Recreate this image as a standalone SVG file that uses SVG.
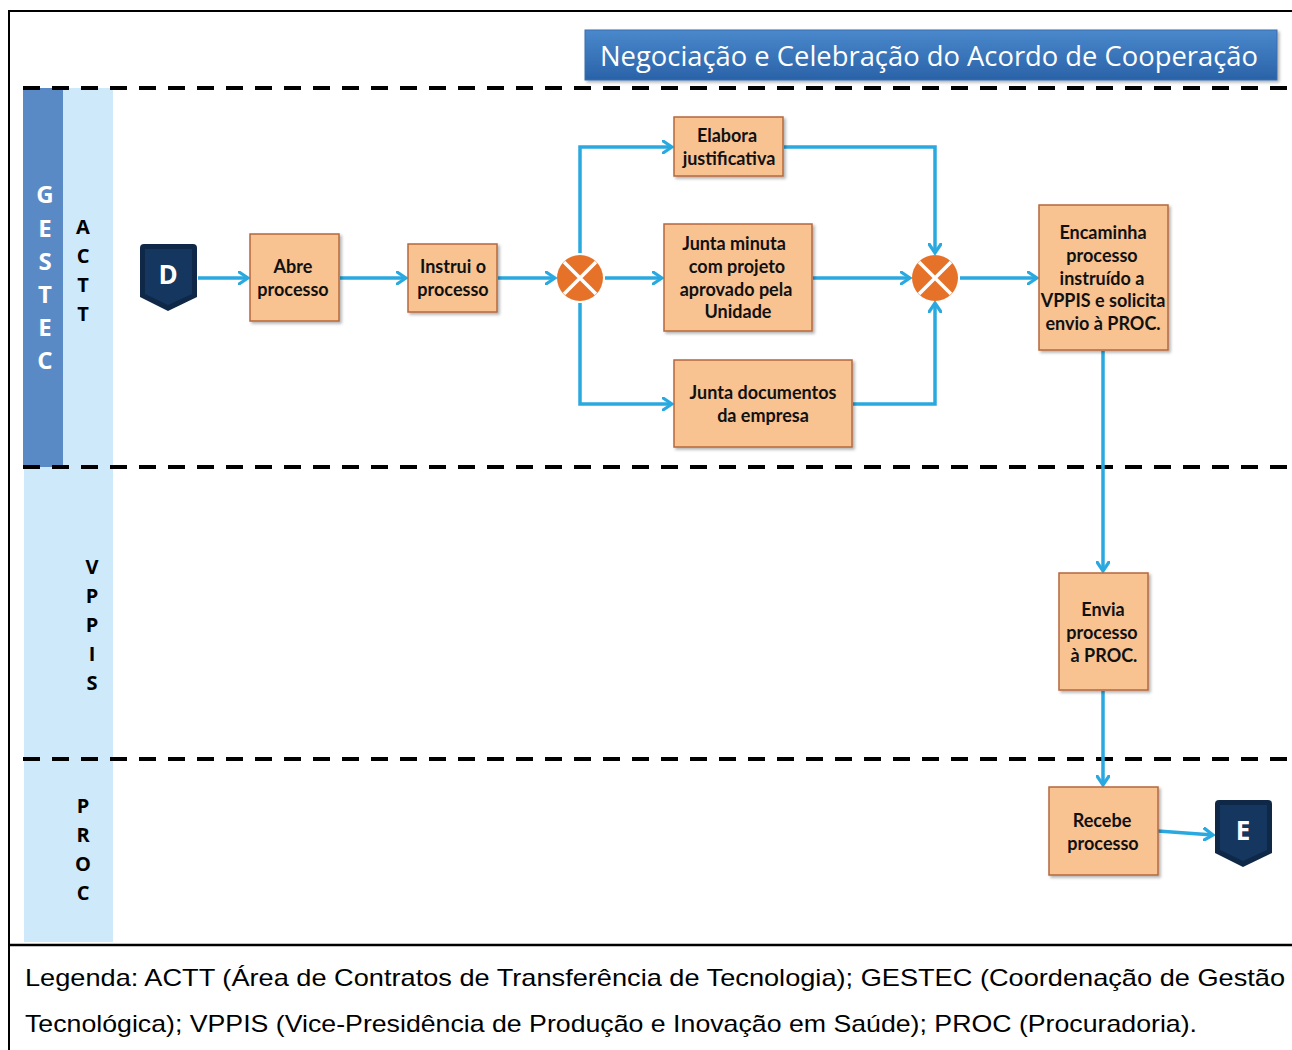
<svg xmlns="http://www.w3.org/2000/svg" width="1292" height="1050" viewBox="0 0 1292 1050">
<style>
.box{fill:#f8c291;stroke:#b5683c;stroke-width:1.5}
.lbl{font-family:Lato,"Open Sans",sans-serif;font-weight:bold;font-size:18px;fill:#111;text-anchor:middle}
.conn{fill:none;stroke:#2aa9e0;stroke-width:3.5;stroke-linejoin:miter}
.dash{stroke:#000;stroke-width:4;stroke-dasharray:17 12}
.lane{font-family:"Open Sans",sans-serif;font-weight:bold;text-anchor:middle}
</style>
<defs>
<marker id="arr" viewBox="0 0 12 14" refX="10" refY="7" markerWidth="12" markerHeight="14" markerUnits="userSpaceOnUse" orient="auto">
<path d="M1,1 L10,7 L1,13" fill="none" stroke="#2aa9e0" stroke-width="3.2" stroke-linecap="round"/>
</marker>
<linearGradient id="tg" x1="0" y1="0" x2="0" y2="1">
<stop offset="0" stop-color="#4a88cc"/>
<stop offset="1" stop-color="#2a62a8"/>
</linearGradient>
<filter id="sh" x="-10%" y="-10%" width="130%" height="130%">
<feDropShadow dx="2" dy="2" stdDeviation="1.5" flood-color="#000" flood-opacity="0.3"/>
</filter>
</defs>
<rect width="1292" height="1050" fill="#fff"/>
<!-- outer frame -->
<path d="M9,1050 V11 H1292" fill="none" stroke="#000" stroke-width="2"/>
<line x1="9" y1="945" x2="1292" y2="945" stroke="#000" stroke-width="2.5"/>
<!-- lanes -->
<g id="lanes">
<rect x="24" y="88" width="89" height="854" fill="#cde9fa"/>
<rect x="23" y="88" width="40" height="379" fill="#5a8ac6"/>
<g class="lane" fill="#fff" font-size="24">
<text x="45" y="203">G</text><text x="45" y="237">E</text><text x="45" y="270">S</text><text x="45" y="303">T</text><text x="45" y="336">E</text><text x="45" y="369">C</text>
</g>
<g class="lane" fill="#000" font-size="20">
<text x="83" y="234">A</text><text x="83" y="263">C</text><text x="83" y="292">T</text><text x="83" y="321">T</text>
<text x="92" y="574">V</text><text x="92" y="603">P</text><text x="92" y="632">P</text><text x="92" y="661">I</text><text x="92" y="690">S</text>
<text x="83" y="813">P</text><text x="83" y="842">R</text><text x="83" y="871">O</text><text x="83" y="900">C</text>
</g>
<line class="dash" x1="23" y1="88" x2="1292" y2="88"/>
<line class="dash" x1="23" y1="467" x2="1292" y2="467"/>
<line class="dash" x1="23" y1="759" x2="1292" y2="759"/>
</g>
<!-- title -->
<g id="title">
<rect x="585" y="30" width="692" height="50" fill="url(#tg)" stroke="#3a6fb0" filter="url(#sh)"/>
<text x="600" y="66" font-family="'Open Sans',sans-serif" font-size="27" fill="#fff" textLength="658" lengthAdjust="spacingAndGlyphs">Negociação e Celebração do Acordo de Cooperação</text>
</g>
<!-- connectors -->
<g id="connectors">
<path class="conn" d="M198,278 H248" marker-end="url(#arr)"/>
<path class="conn" d="M340,278 H406" marker-end="url(#arr)"/>
<path class="conn" d="M498,278 H555" marker-end="url(#arr)"/>
<path class="conn" d="M580,253 V147 H672" marker-end="url(#arr)"/>
<path class="conn" d="M605,278 H662" marker-end="url(#arr)"/>
<path class="conn" d="M580,303 V404 H672" marker-end="url(#arr)"/>
<path class="conn" d="M784,147 H935 V253" marker-end="url(#arr)"/>
<path class="conn" d="M813,278 H910" marker-end="url(#arr)"/>
<path class="conn" d="M853,404 H935 V303" marker-end="url(#arr)"/>
<path class="conn" d="M960,278 H1037" marker-end="url(#arr)"/>
<path class="conn" d="M1103,351 V571" marker-end="url(#arr)"/>
<path class="conn" d="M1103,691 V785" marker-end="url(#arr)"/>
<path class="conn" d="M1158,831 L1213,835" marker-end="url(#arr)"/>
</g>
<!-- start/end -->
<g id="start">
<path d="M140,248 Q140,244 144,244 H193 Q197,244 197,248 V297 L168,311 L140,297 Z" fill="#0f2848"/>
<path d="M145,249 H192 V294 L168,305 L145,294 Z" fill="#14365f"/>
<text x="168" y="284" font-family="'Open Sans',sans-serif" font-weight="bold" font-size="26" fill="#fff" text-anchor="middle">D</text>
</g>
<g id="end">
<path d="M1215,804 Q1215,800 1219,800 H1268 Q1272,800 1272,804 V853 L1243,867 L1215,853 Z" fill="#0f2848"/>
<path d="M1220,805 H1267 V850 L1243,861 L1220,850 Z" fill="#14365f"/>
<text x="1243" y="840" font-family="'Open Sans',sans-serif" font-weight="bold" font-size="26" fill="#fff" text-anchor="middle">E</text>
</g>
<!-- gateways -->
<g id="gw1">
<circle cx="580" cy="278" r="23" fill="#e6722a"/>
<path d="M564,262 L596,294 M596,262 L564,294" stroke="#fff" stroke-width="3.5"/>
</g>
<g id="gw2">
<circle cx="935" cy="278" r="23" fill="#e6722a"/>
<path d="M919,262 L951,294 M951,262 L919,294" stroke="#fff" stroke-width="3.5"/>
</g>
<!-- nodes -->
<g id="abre"><rect class="box" x="250" y="234" width="89" height="87" filter="url(#sh)"/>
<text class="lbl" x="293" y="273">Abre</text><text class="lbl" x="293" y="296">processo</text></g>
<g id="instrui"><rect class="box" x="408" y="244" width="89" height="68" filter="url(#sh)"/>
<text class="lbl" x="453" y="273">Instrui o</text><text class="lbl" x="453" y="296">processo</text></g>
<g id="elabora"><rect class="box" x="674" y="117" width="109" height="59" filter="url(#sh)"/>
<text class="lbl" x="727" y="142">Elabora</text><text class="lbl" x="729" y="165">justificativa</text></g>
<g id="minuta"><rect class="box" x="664" y="224" width="148" height="107" filter="url(#sh)"/>
<text class="lbl" x="734" y="250">Junta minuta</text><text class="lbl" x="737" y="273">com projeto</text><text class="lbl" x="736" y="296">aprovado pela</text><text class="lbl" x="738" y="318">Unidade</text></g>
<g id="docs"><rect class="box" x="674" y="360" width="178" height="87" filter="url(#sh)"/>
<text class="lbl" x="763" y="399">Junta documentos</text><text class="lbl" x="763" y="422">da empresa</text></g>
<g id="encaminha"><rect class="box" x="1039" y="205" width="129" height="145" filter="url(#sh)"/>
<text class="lbl" x="1103" y="239">Encaminha</text><text class="lbl" x="1102" y="262">processo</text><text class="lbl" x="1102" y="285">instruído a</text><text class="lbl" x="1103" y="307">VPPIS e solicita</text><text class="lbl" x="1103" y="330">envio à PROC.</text></g>
<g id="envia"><rect class="box" x="1059" y="573" width="89" height="117" filter="url(#sh)"/>
<text class="lbl" x="1103" y="616">Envia</text><text class="lbl" x="1102" y="639">processo</text><text class="lbl" x="1104" y="662">à PROC.</text></g>
<g id="recebe"><rect class="box" x="1049" y="787" width="109" height="88" filter="url(#sh)"/>
<text class="lbl" x="1102" y="827">Recebe</text><text class="lbl" x="1103" y="850">processo</text></g>
<!-- legend -->
<g id="legend" font-family="'Liberation Sans',Arial,sans-serif" font-size="24" fill="#000">
<text x="25" y="986" textLength="1260" lengthAdjust="spacingAndGlyphs">Legenda: ACTT (Área de Contratos de Transferência de Tecnologia); GESTEC (Coordenação de Gestão</text>
<text x="25" y="1032" textLength="1172" lengthAdjust="spacingAndGlyphs">Tecnológica); VPPIS (Vice-Presidência de Produção e Inovação em Saúde); PROC (Procuradoria).</text>
</g>
</svg>
